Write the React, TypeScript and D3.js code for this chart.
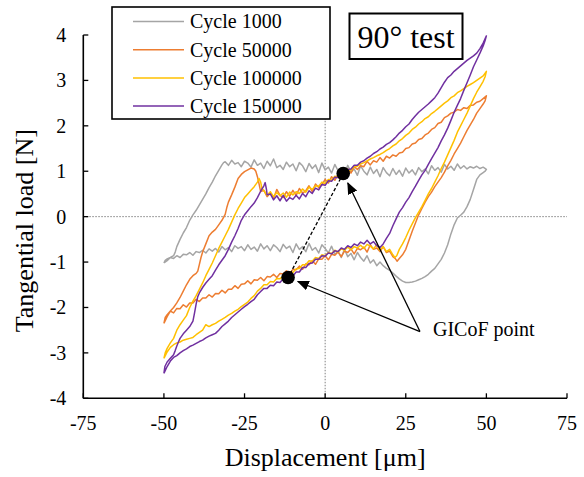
import React from "react";
import * as d3 from "d3";

type P = [number, number];

const xTicks = [-75, -50, -25, 0, 25, 50, 75];
const yTicks = [-4, -3, -2, -1, 0, 1, 2, 3, 4];
const seriesNames = ["Cycle 1000", "Cycle 50000", "Cycle 100000", "Cycle 150000"];
const seriesColors = ["#A5A5A5", "#ED7D31", "#FFC000", "#7030A0"];

const cycle1000: P[] = [
  [-50,-1.02],[-49.6,-0.96],[-49,-0.93],[-48,-0.9],[-47,-0.86],[-46.5,-0.78],[-46,-0.66],[-45,-0.5],[-44,-0.36],[-43,-0.24],[-42,-0.08],[-41,0.04],[-40,0.14],[-39,0.26],[-38,0.38],[-37,0.5],[-36,0.64],[-35,0.76],[-34,0.9],[-33,1.02],[-32,1.14],[-31.5,1.19],
  [-31,1.21],[-30,1.13],[-29,1.24],[-28,1.16],[-27,1.19],[-26,1.1],[-25,1.22],[-24,1.18],[-23,1.09],[-22,1.25],[-21,1.13],[-20,1.18],[-19,1.06],[-18,1.22],[-17,1.12],[-16,1.27],[-15,1.08],[-14,1.13],[-13,1.04],[-12,1.2],[-11,1.1],[-10,1.16],[-9,1.01],[-8,1.19],[-7,1.12],[-6,0.99],[-5,1.17],[-4,1.06],[-3,1.14],[-2,0.97],[-1,1.18],[0,1.03],
  [1,1.09],[2,0.96],[3,1.15],[4,1.01],[5,1.07],[6,0.93],[7,1.13],[8,0.98],[9,1.05],[10,0.91],[11,1.12],[12,1.0],[13,0.92],[14,1.09],[15,0.95],[16,1.04],[17,0.88],[18,1.08],[19,0.97],[20,0.9],[21,1.06],[22,0.93],[23,1.02],[24,0.89],[25,1.07],[26,0.96],[27,1.03],[28,0.92],[29,1.08],[30,0.99],
  [31,1.05],[32,0.94],[33,1.12],[34,1.02],[35,1.08],[36,0.98],[37,1.15],[38,1.05],[39,1.11],[40,1.02],[41,1.16],[42,1.06],[43,1.12],[44,1.05],[45,1.1],[46,1.07],[47,1.11],[48,1.06],[49,1.09],[50,1.04],
  [49.6,1.0],[49,0.97],[48,0.92],[47,0.82],[46,0.6],[45,0.38],[44,0.22],[43,0.1],[42,0.03],[41,-0.03],[40,-0.18],[39,-0.38],[38,-0.62],[37,-0.8],[36,-0.94],[35,-1.04],[34,-1.14],[33,-1.2],[32,-1.27],[31,-1.32],[30,-1.36],[29,-1.39],[28,-1.42],[27,-1.44],[26,-1.45],[25,-1.45],[24,-1.42],[23,-1.37],[22,-1.31],[21,-1.24],[20,-1.18],[19,-1.14],[18,-1.08],
  [17,-1.0],[16,-1.08],[15,-0.95],[14,-1.02],[13,-0.86],[12,-0.98],[11,-0.9],[10,-0.79],[9,-0.95],[8,-0.81],[7,-0.88],[6,-0.72],[5,-0.9],[4,-0.76],[3,-0.83],[2,-0.65],[1,-0.8],[0,-0.7],
  [-1,-0.62],[-2,-0.8],[-3,-0.68],[-4,-0.74],[-5,-0.59],[-6,-0.77],[-7,-0.66],[-8,-0.72],[-9,-0.6],[-10,-0.79],[-11,-0.65],[-12,-0.7],[-13,-0.61],[-14,-0.77],[-15,-0.68],[-16,-0.62],[-17,-0.75],[-18,-0.64],[-19,-0.71],[-20,-0.6],[-21,-0.76],[-22,-0.67],[-23,-0.72],[-24,-0.62],[-25,-0.75],
  [-26,-0.66],[-27,-0.7],[-28,-0.64],[-29,-0.77],[-30,-0.68],[-31,-0.73],[-32,-0.66],[-33,-0.78],[-34,-0.7],[-35,-0.76],[-36,-0.71],[-37,-0.8],[-38,-0.74],[-39,-0.79],[-40,-0.77],[-41,-0.85],[-42,-0.79],[-43,-0.84],[-44,-0.83],[-45,-0.9],[-46,-0.86],[-47,-0.92],[-48,-0.9],[-49,-0.97],[-50,-1.02],
];

const cycle50000: P[] = [
  [-50,-2.35],[-49.6,-2.22],[-49,-2.16],[-48,-2.08],[-47,-2.0],[-46,-1.9],[-45,-1.78],[-44,-1.64],[-43,-1.5],[-42,-1.38],[-41,-1.3],[-40,-1.25],[-39.5,-1.2],[-39,-1.05],[-38.5,-0.9],[-38,-0.78],[-37,-0.6],[-36,-0.42],[-35,-0.34],[-34,-0.28],[-33,-0.18],[-32,-0.08],[-31,0.05],[-30.5,0.2],[-30,0.32],[-29,0.48],[-28,0.65],[-27,0.84],[-26,0.93],[-25,0.99],[-24,1.03],[-23,1.07],[-22,1.05],[-21.5,1.0],[-21,0.88],[-20.5,0.72],[-20,0.55],
  [-19,0.58],[-18,0.44],[-17,0.52],[-16,0.4],[-15,0.6],[-14,0.47],[-13,0.42],[-12,0.55],[-11,0.45],[-10,0.58],[-9,0.47],[-8,0.62],[-7,0.52],[-6,0.57],[-5,0.68],[-4,0.55],[-3,0.72],[-2,0.64],[-1,0.7],[0,0.82],
  [1,0.74],[2,0.88],[3,0.8],[4,0.93],[5,0.9],[6,0.97],[7,1.05],[8,0.96],[9,1.1],[10,1.04],[11,1.12],[12,1.1],[13,1.22],[14,1.14],[15,1.23],[16,1.2],[17,1.3],[18,1.22],[19,1.33],[20,1.29],
  [21,1.36],[22,1.33],[23,1.4],[24,1.42],[25,1.5],[26,1.52],[27,1.6],[28,1.62],[29,1.7],[30,1.72],[31,1.8],[32,1.84],[33,1.92],[34,1.96],[35,2.05],[36,2.08],[37,2.18],[38,2.22],[39,2.28],[40,2.3],[41,2.36],[42,2.34],[43,2.4],[44,2.38],[45,2.45],[46,2.46],[47,2.52],[48,2.54],[49,2.6],[50,2.66],
  [49.6,2.55],[49,2.48],[48,2.38],[47,2.28],[46,2.14],[45,2.02],[44,1.9],[43,1.76],[42,1.62],[41,1.5],[40,1.38],[39,1.24],[38,1.12],[37,0.98],[36,0.86],[35,0.76],[34,0.66],[33,0.54],[32,0.44],[31,0.32],[30,0.18],[29,0.04],[28,-0.14],[27,-0.32],[26,-0.52],[25,-0.72],[24,-0.84],[23,-0.92],[22.3,-0.98],[21.7,-0.92],
  [21,-0.88],[20,-0.76],[19,-0.79],[18,-0.66],[17,-0.77],[16,-0.69],[15,-0.72],[14,-0.62],[13,-0.78],[12,-0.67],[11,-0.73],[10,-0.7],[9,-0.82],[8,-0.71],[7,-0.79],[6,-0.76],[5,-0.88],[4,-0.78],[3,-0.85],[2,-0.83],[1,-0.95],[0,-0.86],
  [-1,-0.94],[-2,-0.93],[-3,-1.05],[-4,-0.97],[-5,-1.06],[-6,-1.04],[-7,-1.16],[-8,-1.09],[-9,-1.17],[-10,-1.16],[-11,-1.26],[-12,-1.19],[-13,-1.26],[-14,-1.25],[-15,-1.34],[-16,-1.27],[-17,-1.33],[-18,-1.32],[-19,-1.41],[-20,-1.34],[-21,-1.4],[-22,-1.39],[-23,-1.48],[-24,-1.41],[-25,-1.48],
  [-26,-1.49],[-27,-1.58],[-28,-1.52],[-29,-1.6],[-30,-1.6],[-31,-1.68],[-32,-1.62],[-33,-1.7],[-34,-1.69],[-35,-1.77],[-36,-1.72],[-37,-1.79],[-38,-1.79],[-39,-1.87],[-40,-1.82],[-41,-1.9],[-42,-1.9],[-43,-1.99],[-44,-1.94],[-45,-2.03],[-46,-2.02],[-47,-2.12],[-48,-2.08],[-49,-2.2],[-50,-2.35],
];

const cycle100000: P[] = [
  [-50,-3.12],[-49.6,-3.0],[-49,-2.9],[-48,-2.78],[-47,-2.68],[-46,-2.5],[-45,-2.38],[-44,-2.28],[-43,-2.18],[-42,-2.0],[-41,-1.86],[-40,-1.74],[-39,-1.6],[-38,-1.46],[-37,-1.3],[-36,-1.16],[-35,-1.02],[-34,-0.86],[-33,-0.7],[-32,-0.56],[-31,-0.42],[-30,-0.28],[-29,-0.12],[-28,0.04],[-27,0.18],[-26,0.3],[-25,0.42],[-24,0.5],[-23,0.58],[-22,0.66],[-21,0.76],[-20.5,0.84],[-20,0.76],[-19.6,0.62],
  [-19,0.57],[-18,0.47],[-17,0.55],[-16,0.44],[-15,0.53],[-14,0.46],[-13,0.52],[-12,0.43],[-11,0.54],[-10,0.48],[-9,0.55],[-8,0.51],[-7,0.61],[-6,0.54],[-5,0.65],[-4,0.6],[-3,0.68],[-2,0.67],[-1,0.76],[0,0.73],
  [1,0.82],[2,0.8],[3,0.89],[4,0.87],[5,0.96],[6,0.95],[7,1.03],[8,1.03],[9,1.1],[10,1.11],[11,1.16],[12,1.19],[13,1.23],[14,1.27],[15,1.3],[16,1.34],[17,1.37],[18,1.41],[19,1.46],[20,1.5],
  [21,1.56],[22,1.6],[23,1.67],[24,1.72],[25,1.79],[26,1.84],[27,1.92],[28,1.97],[29,2.04],[30,2.09],[31,2.16],[32,2.2],[33,2.27],[34,2.32],[35,2.38],[36,2.44],[37,2.5],[38,2.55],[39,2.62],[40,2.66],[41,2.73],[42,2.77],[43,2.82],[44,2.87],[45,2.91],[46,2.95],[47,3.0],[48,3.05],[49,3.1],[50,3.2],
  [49.6,3.08],[49,2.98],[48,2.86],[47,2.74],[46,2.6],[45,2.44],[44,2.28],[43,2.14],[42,2.0],[41,1.86],[40,1.68],[39,1.52],[38,1.36],[37,1.2],[36,1.06],[35,0.9],[34,0.76],[33,0.62],[32,0.5],[31,0.36],[30,0.22],[29,0.1],[28,-0.02],[27,-0.16],[26,-0.3],[25,-0.46],[24,-0.6],[23,-0.72],[22.2,-0.86],[21.6,-0.9],
  [21,-0.84],[20,-0.72],[19,-0.77],[18,-0.66],[17,-0.74],[16,-0.62],[15,-0.71],[14,-0.65],[13,-0.61],[12,-0.7],[11,-0.63],[10,-0.69],[9,-0.66],[8,-0.73],[7,-0.67],[6,-0.74],[5,-0.71],[4,-0.78],[3,-0.74],[2,-0.81],[1,-0.79],[0,-0.86],
  [-1,-0.84],[-2,-0.92],[-3,-0.9],[-4,-0.98],[-5,-0.97],[-6,-1.06],[-7,-1.06],[-8,-1.14],[-9,-1.15],[-10,-1.23],[-11,-1.22],[-12,-1.3],[-13,-1.3],[-14,-1.37],[-15,-1.36],[-16,-1.44],[-17,-1.43],[-18,-1.5],[-19,-1.5],[-20,-1.58],[-21,-1.64],[-22,-1.74],[-23,-1.8],[-24,-1.88],[-25,-1.93],
  [-26,-1.98],[-27,-2.04],[-28,-2.08],[-29,-2.13],[-30,-2.17],[-31,-2.22],[-32,-2.26],[-33,-2.3],[-34,-2.35],[-35,-2.38],[-36,-2.42],[-37,-2.38],[-38,-2.5],[-39,-2.55],[-40,-2.6],[-41,-2.66],[-42,-2.68],[-43,-2.7],[-44,-2.72],[-45,-2.76],[-46,-2.78],[-47,-2.82],[-48,-2.88],[-49,-2.98],[-50,-3.12],
];

const cycle150000: P[] = [
  [-50,-3.45],[-49.7,-3.3],[-49,-3.2],[-48,-3.12],[-47,-3.04],[-46.5,-2.95],[-46,-2.85],[-45.5,-2.76],[-45,-2.68],[-44,-2.58],[-43,-2.5],[-42,-2.42],[-41,-2.3],[-40.5,-2.12],[-40,-1.92],[-39.5,-1.76],[-39,-1.68],[-38,-1.56],[-37,-1.46],[-36,-1.38],[-35,-1.3],[-34,-1.18],[-33,-1.06],[-32,-0.96],[-31,-0.86],[-30,-0.72],[-29,-0.56],[-28,-0.42],[-27,-0.26],[-26,-0.08],[-25,0.04],[-24,0.13],[-23,0.22],[-22,0.3],[-21,0.42],[-20,0.56],[-19,0.68],[-18.6,0.75],[-18.2,0.6],[-18,0.48],
  [-17,0.5],[-16,0.37],[-15,0.46],[-14,0.35],[-13,0.47],[-12,0.34],[-11,0.42],[-10,0.38],[-9,0.47],[-8,0.39],[-7,0.51],[-6,0.44],[-5,0.57],[-4,0.51],[-3,0.63],[-2,0.59],[-1,0.71],[0,0.69],
  [1,0.79],[2,0.78],[3,0.87],[4,0.86],[5,0.95],[6,0.95],[7,1.04],[8,1.05],[9,1.13],[10,1.13],[11,1.2],[12,1.23],[13,1.29],[14,1.33],[15,1.39],[16,1.43],[17,1.49],[18,1.53],[19,1.59],[20,1.63],
  [21,1.69],[22,1.76],[23,1.84],[24,1.9],[25,1.98],[26,2.04],[27,2.14],[28,2.22],[29,2.3],[30,2.36],[31,2.42],[32,2.48],[33,2.55],[34,2.62],[35,2.72],[36,2.84],[37,2.96],[38,3.06],[39,3.12],[40,3.2],[41,3.26],[42,3.32],[43,3.38],[44,3.44],[45,3.49],[46,3.54],[47,3.6],[48,3.7],[49,3.82],[50,3.98],
  [49.6,3.88],[49,3.76],[48,3.6],[47,3.45],[46,3.3],[45,3.12],[44,2.95],[43,2.78],[42,2.6],[41,2.45],[40,2.3],[39,2.12],[38,1.95],[37,1.8],[36,1.67],[35,1.52],[34,1.4],[33,1.28],[32,1.15],[31,1.02],[30,0.92],[29,0.8],[28,0.67],[27,0.55],[26,0.42],[25,0.32],[24,0.2],[23,0.1],[22,-0.05],[21,-0.2],[20,-0.37],[19,-0.48],[18,-0.6],[17,-0.68],
  [16,-0.64],[15,-0.55],[14,-0.6],[13,-0.52],[12,-0.6],[11,-0.56],[10,-0.64],[9,-0.6],[8,-0.68],[7,-0.64],[6,-0.72],[5,-0.69],[4,-0.77],[3,-0.75],[2,-0.82],[1,-0.8],[0,-0.87],
  [-1,-0.86],[-2,-0.94],[-3,-0.94],[-4,-1.02],[-5,-1.03],[-6,-1.12],[-7,-1.12],[-8,-1.22],[-9,-1.22],[-10,-1.31],[-11,-1.3],[-12,-1.38],[-13,-1.37],[-14,-1.45],[-15,-1.44],[-16,-1.52],[-17,-1.51],[-18,-1.58],[-19,-1.58],[-20,-1.65],[-21,-1.72],[-22,-1.82],[-23,-1.87],[-24,-1.93],[-25,-1.98],
  [-26,-2.04],[-27,-2.1],[-28,-2.16],[-29,-2.22],[-30,-2.3],[-31,-2.36],[-32,-2.42],[-33,-2.5],[-34,-2.57],[-35,-2.6],[-36,-2.63],[-37,-2.67],[-38,-2.72],[-39,-2.75],[-40,-2.79],[-41,-2.83],[-42,-2.86],[-43,-2.91],[-44,-2.95],[-45,-3.0],[-46,-3.06],[-47,-3.1],[-48,-3.18],[-49,-3.3],[-50,-3.45],
];

const seriesData: P[][] = [cycle1000, cycle50000, cycle100000, cycle150000];

const gicofPoints: P[] = [[5.6, 0.95], [-11.5, -1.34]];
const gicofLabelAnchor: P = [29.4, -2.53];
const gicofLabel = "GICoF point";
const titleText = "90° test";
const xLabel = "Displacement [μm]";
const yLabel = "Tangential load [N]";

const FONT = "'Liberation Serif', 'Times New Roman', serif";

export default function App() {
  const x = d3.scaleLinear().domain([-75, 75]).range([83.3, 567]);
  const y = d3.scaleLinear().domain([-4, 4]).range([398.3, 35]);
  const line = d3
    .line<P>()
    .x((d) => x(d[0]))
    .y((d) => y(d[1]));

  const [ax, ay] = [x(gicofLabelAnchor[0]), y(gicofLabelAnchor[1])];
  const arrows = gicofPoints.map(([px, py]) => {
    const cx = x(px);
    const cy = y(py);
    const dx = ax - cx;
    const dy = ay - cy;
    const len = Math.hypot(dx, dy);
    const off = 10.5;
    return { x1: ax, y1: ay, x2: cx + (dx / len) * off, y2: cy + (dy / len) * off };
  });

  return (
    <svg
      width={584}
      height={477}
      style={{ position: "absolute", left: 0, top: 0, background: "#fff" }}
      fontFamily={FONT}
    >
      <defs>
        <marker
          id="ah"
          markerUnits="userSpaceOnUse"
          markerWidth={12}
          markerHeight={10}
          refX={11}
          refY={5}
          orient="auto"
        >
          <path d="M0,0 L12,5 L0,10 z" fill="#000" />
        </marker>
      </defs>
      <rect x={0} y={0} width={584} height={477} fill="#fff" />
      {/* zero reference lines */}
      <line x1={x(-75)} x2={x(75)} y1={y(0)} y2={y(0)} stroke="#808080" strokeWidth={1} strokeDasharray="1.5,1.5" />
      <line x1={x(0)} x2={x(0)} y1={y(-4)} y2={y(4)} stroke="#808080" strokeWidth={1} strokeDasharray="1.5,1.5" />

      {/* curves */}
      {seriesData.map((d, i) => (
        <path
          key={seriesNames[i]}
          d={line(d) || ""}
          fill="none"
          stroke={seriesColors[i]}
          strokeWidth={1.5}
          strokeLinejoin="round"
        />
      ))}

      {/* GICoF annotations */}
      <line
        x1={x(gicofPoints[0][0])}
        y1={y(gicofPoints[0][1])}
        x2={x(gicofPoints[1][0])}
        y2={y(gicofPoints[1][1])}
        stroke="#000"
        strokeWidth={1.3}
        strokeDasharray="3.5,2"
      />
      {gicofPoints.map((p, i) => (
        <circle key={i} cx={x(p[0])} cy={y(p[1])} r={6.8} fill="#000" />
      ))}
      {arrows.map((a, i) => (
        <line key={i} x1={a.x1} y1={a.y1} x2={a.x2} y2={a.y2} stroke="#000" strokeWidth={1.3} markerEnd="url(#ah)" />
      ))}
      <text x={ax + 13} y={ay + 4} fontSize={20} fill="#000">
        {gicofLabel}
      </text>

      {/* axes */}
      <line x1={x(-75)} x2={x(-75)} y1={y(-4)} y2={y(4)} stroke="#000" strokeWidth={1.6} />
      <line x1={x(-75)} x2={x(75)} y1={y(-4)} y2={y(-4)} stroke="#000" strokeWidth={1.6} />
      {yTicks.map((t) => (
        <g key={"y" + t}>
          <line x1={x(-75)} x2={x(-75) + 5} y1={y(t)} y2={y(t)} stroke="#000" strokeWidth={1.3} />
          <text x={x(-75) - 17} y={y(t) + 7} fontSize={20} textAnchor="end" fill="#000">
            {t}
          </text>
        </g>
      ))}
      {xTicks.map((t) => (
        <g key={"x" + t}>
          <line x1={x(t)} x2={x(t)} y1={y(-4)} y2={y(-4) - 5} stroke="#000" strokeWidth={1.3} />
          <text x={x(t)} y={430} fontSize={20} textAnchor="middle" fill="#000">
            {t}
          </text>
        </g>
      ))}
      <text x={x(0)} y={466} fontSize={26} textAnchor="middle" fill="#000">
        {xLabel}
      </text>
      <text
        transform={`translate(33, ${y(0) + 14}) rotate(-90)`}
        fontSize={26}
        textAnchor="middle"
        fill="#000"
      >
        {yLabel}
      </text>

      {/* legend */}
      <rect x={112} y={7} width={218} height={112} fill="#fff" stroke="#000" strokeWidth={1.6} />
      {seriesNames.map((n, i) => (
        <g key={n}>
          <line x1={133} x2={184} y1={21.5 + i * 28.2} y2={21.5 + i * 28.2} stroke={seriesColors[i]} strokeWidth={1.5} />
          <text x={190} y={28.3 + i * 28.2} fontSize={20} fill="#000">
            {n}
          </text>
        </g>
      ))}

      {/* title box */}
      <rect x={349.5} y={13.5} width={113} height={45.5} fill="#fff" stroke="#000" strokeWidth={2} />
      <text x={406} y={48.3} fontSize={32} textAnchor="middle" fill="#000">
        {titleText}
      </text>
    </svg>
  );
}
